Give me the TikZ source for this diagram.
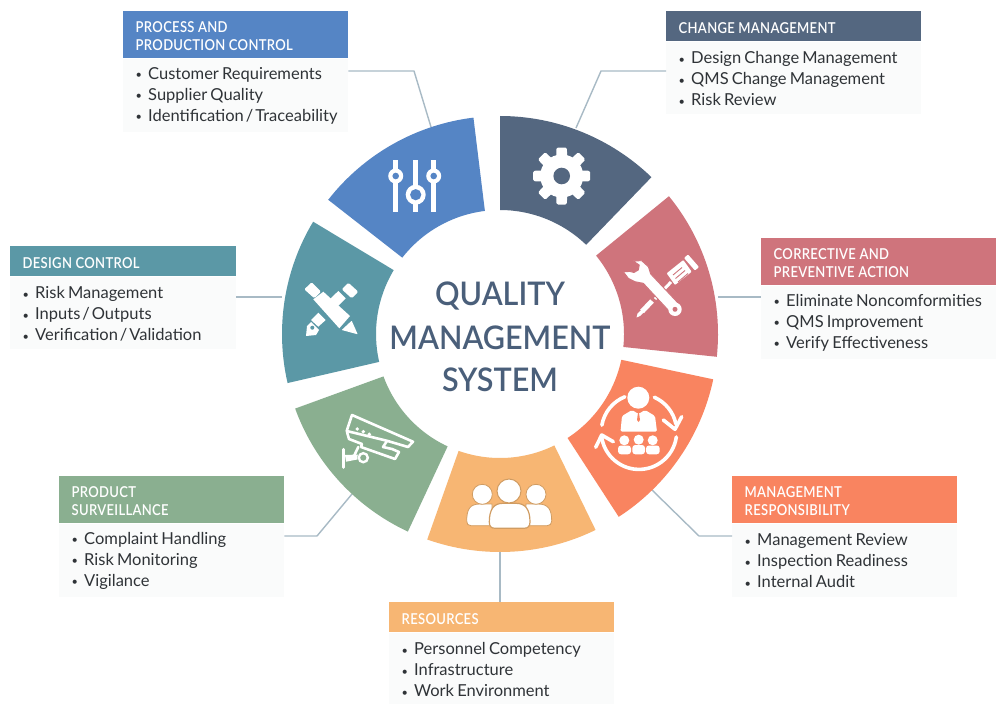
\documentclass[tikz,border=0pt]{standalone}
\usepackage{fontspec}
\setmainfont[WordSpace=0.75]{Lato}
\newfontfamily\hdrfont[LetterSpace=2,FakeStretch=0.87]{Lato Semibold}
\newfontfamily\titlefont[FakeStretch=0.94]{Lato Semibold}
\definecolor{cdark}{HTML}{546780}
\definecolor{cblue}{HTML}{5585C5}
\definecolor{cred}{HTML}{CF747C}
\definecolor{corange}{HTML}{F98460}
\definecolor{clight}{HTML}{F7B673}
\definecolor{cgreen}{HTML}{8AAF90}
\definecolor{cteal}{HTML}{5B98A6}
\definecolor{cline}{HTML}{A8BAC5}
\definecolor{cbody}{HTML}{FAFBFB}
\definecolor{ctext}{HTML}{2F3337}
\definecolor{ctitle}{HTML}{4A5F7A}
\definecolor{cbrown}{HTML}{D09C62}
\tikzset{
  hdrbox/.style={anchor=north west,rectangle,inner sep=0pt},
  bodybox/.style={anchor=north west,rectangle,fill=cbody,inner sep=0pt},
  hdrtext/.style={anchor=west,inner xsep=12.5pt,inner ysep=0pt,text=white,align=left,font=\hdrfont\fontsize{15}{18}\selectfont},
  bodytext/.style={anchor=west,inner xsep=12.5pt,inner ysep=0pt,text=ctext,align=left,font=\fontsize{16.5}{21}\selectfont},
  conn/.style={draw=cline,line width=1.4pt,line join=round},
  ttl/.style={anchor=base,text=ctitle,inner sep=0pt,font=\titlefont\fontsize{32.5}{36}\selectfont},
  iconline/.style={draw=white,line cap=round,line join=round},
}
\newcommand\bitem[1]{\mbox{\makebox[12.5pt][l]{\fontsize{11}{11}\selectfont\raisebox{.6pt}{•}}#1}}
\newcommand\nsl{\spaceskip=2pt\relax}
% name, x, y, width, header height, body height, colour, header, body
\newcommand\qbox[9]{%
  \node[hdrbox,fill=#7,minimum width=#4pt,minimum height=#5pt] (#1h) at (#2,#3) {};
  \node[bodybox,minimum width=#4pt,minimum height=#6pt] (#1b) at (#1h.south west) {};
  \node[hdrtext] (#1ht) at ([yshift=-1.8pt]#1h.west) {#8};
  \node[bodytext] (#1bt) at ([yshift=-37.5pt]#1b.north west) {#9};
}
\newcommand\seg[3]{\fill[#3] (#1:218pt) arc[start angle=#1,end angle=#2,radius=218pt] -- (#2:124pt) arc[start angle=#2,end angle=#1,radius=124pt] -- cycle;}
\begin{document}
\begin{tikzpicture}[x=1pt,y=-1pt]
\useasboundingbox (0,0) rectangle (1008,706);
\fill[white] (0,0) rectangle (1008,706);
% boxes
\qbox{p}{123}{11}{225}{47}{73}{cblue}{PROCESS AND\\PRODUCTION CONTROL}{\bitem{Customer Requirements}\\\bitem{Supplier Quality}\\\bitem{\nsl Identification / Traceability}}
\qbox{c}{666}{11}{255}{30}{72}{cdark}{CHANGE MANAGEMENT}{\bitem{Design Change Management}\\\bitem{QMS Change Management}\\\bitem{Risk Review}}
\qbox{a}{761}{238}{235}{47}{73}{cred}{CORRECTIVE AND\\PREVENTIVE ACTION}{\bitem{Eliminate Noncomformities}\\\bitem{QMS Improvement}\\\bitem{Verify Effectiveness}}
\qbox{d}{10}{246}{226}{30}{72}{cteal}{DESIGN CONTROL}{\bitem{Risk Management}\\\bitem{\nsl Inputs / Outputs}\\\bitem{\nsl Verification / Validation}}
\qbox{m}{732}{476}{225}{47}{73}{corange}{MANAGEMENT\\RESPONSIBILITY}{\bitem{Management Review}\\\bitem{Inspection Readiness}\\\bitem{Internal Audit}}
\qbox{s}{59}{476}{225}{47}{73}{cgreen}{PRODUCT\\SURVEILLANCE}{\bitem{Complaint Handling}\\\bitem{Risk Monitoring}\\\bitem{Vigilance}}
\qbox{r}{389}{602}{225}{30}{71}{clight}{RESOURCES}{\bitem{Personnel Competency}\\\bitem{Infrastructure}\\\bitem{Work Environment}}
% connector ends on the ring
\coordinate (wp) at (431,127);
\coordinate (wc) at (576,128);
\coordinate (wa) at (718,297);
\coordinate (wd) at (282,297);
\coordinate (wm) at (652,490);
\coordinate (ws) at (352,494);
\coordinate (wr) at (500,552);
\draw[conn] (ph.south east |- 348,71) -- (414,71) -- (wp);
\draw[conn] (ch.south west |- 666,71) -- (601,71) -- (wc);
\draw[conn] (wa) -- (wa -| ab.west);
\draw[conn] (wd) -- (wd -| db.east);
\draw[conn] (wm) -- (699,536) -- (mb.north west |- 732,536);
\draw[conn] (sb.north east |- 284,536) -- (317,536) -- (ws);
\draw[conn] (wr) -- (wr |- rh.north);
% ring
\begin{scope}[shift={(500,334)},y=1pt]
\seg{90}{46}{cdark}
\seg{39.2}{-6}{cred}
\seg{-12}{-57}{corange}
\seg{-64}{-109.5}{clight}
\seg{-115}{-160}{cgreen}
\seg{-167}{-211}{cteal}
\seg{142}{97}{cblue}
\end{scope}
% title
\node[ttl] (t1) at (500,305.5) {QUALITY};
\node[ttl] (t2) at (500,349) {MANAGEMENT};
\node[ttl] (t3) at (500,391) {SYSTEM};
% sliders
\draw[white,line width=5.5pt] (395.7,160) -- (395.7,212) (415.7,160) -- (415.7,212) (433.7,160) -- (433.7,212);
\fill[white] (395.7,176) circle[radius=7.5pt] (433.7,176) circle[radius=7.5pt] (415.7,194.7) circle[radius=10pt];
\fill[cblue] (395.7,176) circle[radius=3.3pt] (433.7,176) circle[radius=3.3pt] (415.7,194.7) circle[radius=5.6pt];
% gear
\begin{scope}[shift={(561.7,176)},y=1pt]
\fill[white] (0,0) circle[radius=21.5pt];
\foreach \g in {0,45,...,315}{\fill[white,rotate=\g,rounded corners=1.5pt] (-5.5pt,15pt) -- (-5.2pt,28.5pt) -- (5.2pt,28.5pt) -- (5.5pt,15pt) -- cycle;}
\fill[cdark] (0,0) circle[radius=8.3pt];
\end{scope}
% screwdriver
\fill[white,rounded corners=.8pt] (666.7,273.3) -- (683.3,260) -- (691.7,271.7) -- (675,285) -- cycle;
\fill[white,rounded corners=1pt] (684,258) -- (688,254.5) -- (699,267) -- (695,270.5) -- cycle;
\draw[cred,line width=.9pt] (673,275) -- (682,267.5) (675.5,278.5) -- (685,270.5) (678,282) -- (688,273.5);
\draw[white,line width=3pt] (671,282) -- (655,299);
\draw[white,line width=5pt] (652,301) -- (642,311.5);
\fill[white] (643.5,308) -- (645.5,310.5) -- (640,316) -- (636.5,317.5) -- (637.5,313.5) -- cycle;
% wrench
\fill[white,draw=cred,line width=.9pt,line join=round] (633.3,261) -- (641.7,260.7) -- (648.3,266.7) -- (650.7,274) -- (678,303) -- (670,312) -- (643.3,283.3) -- (635,281.7) -- (628.3,278.3) -- (623.3,271.7) -- (630,271.5) -- (634,272.5) -- (638.3,270) -- (639.3,265) -- cycle;
\fill[white] (675,309.3) circle[radius=6.7pt];
\fill[cred] (675,309.3) circle[radius=2.5pt];
% pencil and pen
\fill[white,rounded corners=1.2pt] (304.3,289.3) -- (311.7,282.3) -- (321,291.7) -- (314.3,298.3) -- cycle;
\fill[white] (313.3,299.3) -- (323.3,291.7) -- (350,316) -- (339.3,328.3) -- cycle;
\fill[white,rounded corners=.5pt] (341.7,330) -- (351.7,320.7) -- (357.7,334.3) -- cycle;
\fill[white,rounded corners=1.2pt] (341.7,289.3) -- (348.3,282.7) -- (358.3,291.7) -- (351.7,298.3) -- cycle;
\fill[white] (338.3,291) -- (345.7,298.3) -- (334.3,310) -- (327,302) -- cycle;
\fill[white] (318.3,312.7) -- (325.7,320) -- (318.3,326.7) -- (311,320) -- cycle;
\fill[white] (311,322) -- (319,330) -- (316,335) -- (306,336) -- (307,326) -- cycle;
\fill[cteal] (312.3,327.7) circle[radius=2pt];
% camera
\draw[iconline,line width=2.6pt] (352,415) -- (413,441.7) -- (408,447) -- (386.7,440.7) -- (346.7,431) -- cycle;
\draw[iconline,line width=2.6pt] (347,432) -- (349,439) -- (362,444) -- (361,447) -- (395,459) -- (399,452) -- (392,449) -- (383,447) -- (387,441);
\fill[white] (357.3,429) circle[radius=1.9pt] (363.3,431.7) circle[radius=1.9pt] (369.3,434.3) circle[radius=1.9pt];
\draw[iconline,line width=2.6pt] (358.3,447) -- (354,456);
\draw[iconline,line width=3pt] (343.3,449.3) -- (343.3,467.3);
\fill[white] (345,455) -- (358.3,454.5) -- (358.3,459.3) -- (346,461.7) -- cycle;
\fill[cgreen] (363.3,457.7) circle[radius=6pt];
\draw[white,line width=2.4pt] (363.3,457.7) circle[radius=4.5pt];
% group of three
\fill[white,draw=cbrown,line width=.8pt] (466.7,521) .. controls (466.7,509) and (470,504) .. (480,504) -- (492,504) -- (492,525.7) -- (471,525.7) .. controls (468,525.7) and (466.7,524) .. (466.7,521) -- cycle;
\fill[white,draw=cbrown,line width=.8pt] (551.7,521) .. controls (551.7,509) and (548,504) .. (538,504) -- (526,504) -- (526,525.7) -- (547,525.7) .. controls (550,525.7) and (551.7,524) .. (551.7,521) -- cycle;
\fill[white,draw=cbrown,line width=.8pt] (482.3,494.3) circle[radius=10pt] (536,494.3) circle[radius=10pt];
\fill[white,draw=cbrown,line width=1.2pt] (489.3,522) .. controls (489.3,509) and (494,503.3) .. (503,503.3) -- (516,503.3) .. controls (525,503.3) and (530,509) .. (530,522) .. controls (530,526) and (528,528.3) .. (524,528.3) -- (495,528.3) .. controls (491,528.3) and (489.3,526) .. (489.3,522) -- cycle;
\fill[white,draw=cbrown,line width=1pt] (509,491) circle[radius=12pt];
% manager
\fill[white] (638.3,397.7) circle[radius=11pt];
\fill[white,rounded corners=1.5pt] (622,416) -- (632,410) -- (638.5,414) -- (645,410) -- (655,416) -- (657,431.7) -- (620.5,431.7) -- cycle;
\fill[corange] (637.5,411.5) -- (639.5,411.5) -- (639.1,413.5) -- (640,420) -- (638.5,422) -- (637,420) -- (637.9,413.5) -- cycle;
\fill[white] (624.3,440.3) circle[radius=5pt] (638.7,439.7) circle[radius=5pt] (652.7,440.3) circle[radius=5pt];
\fill[white,rounded corners=3pt] (618,454.3) rectangle (631,445.5);
\fill[white,rounded corners=3pt] (632.3,454.3) rectangle (645,445);
\fill[white,rounded corners=3pt] (646,454.3) rectangle (659.7,445.5);
\begin{scope}[shift={(639,431.7)},y=1pt]
\draw[white,line width=3.6pt,line cap=round] (170:37.7pt) arc[start angle=170,end angle=112,radius=37.7pt];
\draw[white,line width=3.6pt,line cap=round] (66:37.7pt) arc[start angle=66,end angle=12,radius=37.7pt];
\draw[white,line width=3.6pt,line cap=round] (-8:37.7pt) arc[start angle=-8,end angle=-172,radius=37.7pt];
\end{scope}
\draw[iconline,line width=3.6pt] (663.3,420) -- (675,429.3) -- (681.7,416.7);
\draw[iconline,line width=3.6pt] (595.7,447.3) -- (601.7,435) -- (613.3,441.7);
\end{tikzpicture}
\end{document}
